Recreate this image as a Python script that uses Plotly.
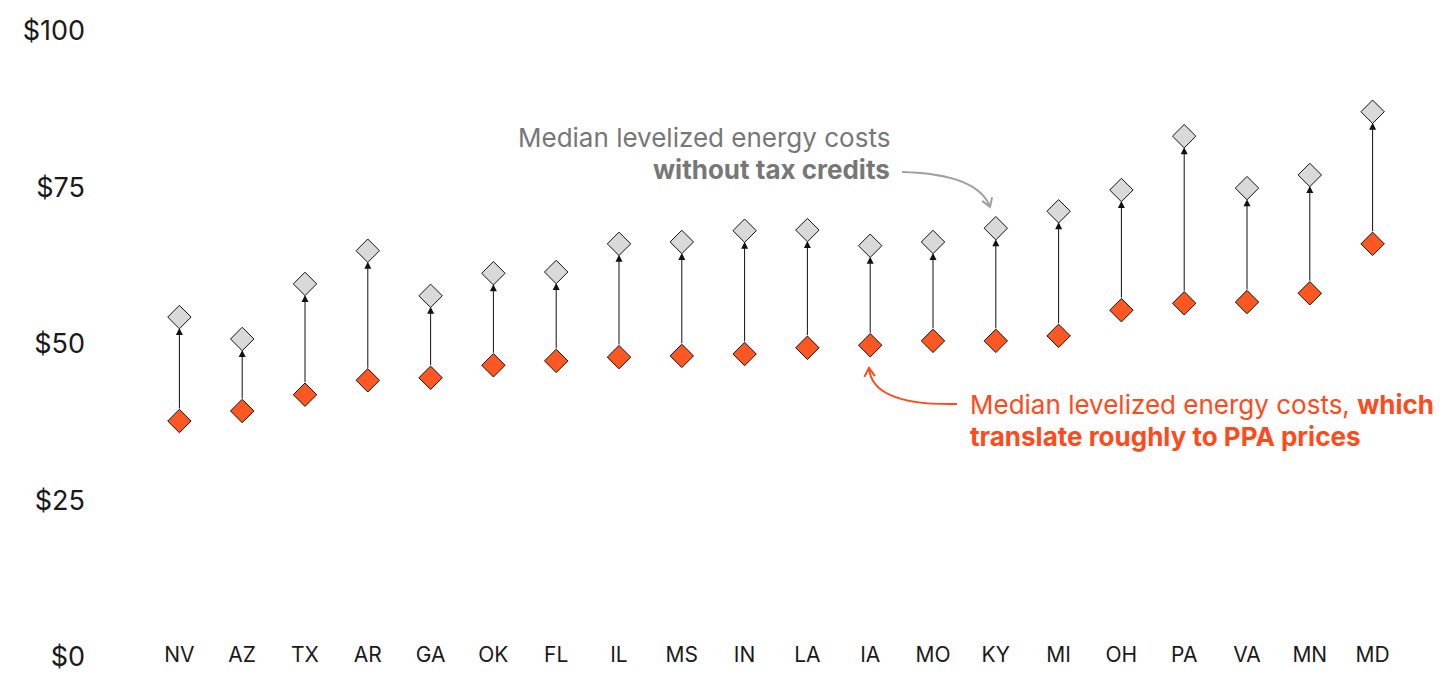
import math
import plotly.graph_objects as go

# Median levelized energy cost by state ($/MWh)
states = ["NV", "AZ", "TX", "AR", "GA", "OK", "FL", "IL", "MS", "IN",
          "LA", "IA", "MO", "KY", "MI", "OH", "PA", "VA", "MN", "MD"]
with_credits = [37.7, 39.3, 41.9, 44.2, 44.6, 46.6, 47.3, 47.9, 48.1, 48.4,
                49.4, 49.8, 50.5, 50.5, 51.3, 55.4, 56.5, 56.7, 58.1, 66.0]
without_credits = [54.3, 50.8, 59.6, 64.9, 57.7, 61.3, 61.5, 66.0, 66.3, 68.1,
                   68.2, 65.7, 66.3, 68.5, 71.2, 74.6, 83.2, 74.9, 77.0, 87.1]
y_ticks = [0, 25, 50, 75, 100]
y_tick_labels = ["$0", "$25", "$50", "$75", "$100"]

RED = "#FF5722"
RED_TEXT = "#FF4A1C"
GRAY_FILL = "#D9D9D9"
GRAY_TEXT = "#777777"
FONT = "Inter"

# page body has an 8px margin, so the plot is shifted up/left by 8
OFF = 8
W, H = 1456, 688
L, R, T, B = 148 - OFF, 52 + OFF, 31 - OFF, 31 + OFF
n = len(states)


# screen pixel -> data helpers, only used for the hand-drawn callouts
def px_x(px):
    return -0.5 + (px - OFF - L) / (W - L - R) * n


def px_y(py):
    return (H - B - (py - OFF)) / (H - T - B) * 100


def curved_arrow(p0, c, p1, head=10, spread=32):
    dx, dy = p1[0] - c[0], p1[1] - c[1]
    d = math.hypot(dx, dy)
    bx, by = -dx / d, -dy / d
    arms = []
    for s in (-1, 1):
        a = math.radians(spread * s)
        ex = bx * math.cos(a) - by * math.sin(a)
        ey = bx * math.sin(a) + by * math.cos(a)
        arms.append((p1[0] + head * ex, p1[1] + head * ey))
    f = lambda p: f"{px_x(p[0]):.4f},{px_y(p[1]):.4f}"
    return (f"M {f(p0)} Q {f(c)} {f(p1)} "
            f"M {f(arms[0])} L {f(p1)} L {f(arms[1])}")


fig = go.Figure()

fig.add_trace(go.Scatter(
    x=states, y=without_credits, mode="markers",
    marker=dict(symbol="diamond", size=18, color=GRAY_FILL,
                line=dict(color="#111111", width=1)),
    cliponaxis=False, hoverinfo="x+y",
))
fig.add_trace(go.Scatter(
    x=states, y=with_credits, mode="markers",
    marker=dict(symbol="diamond", size=18, color=RED,
                line=dict(color="#111111", width=1)),
    cliponaxis=False, hoverinfo="x+y",
))
# state labels sit on the $0 line
fig.add_trace(go.Scatter(
    x=states, y=[0] * n, mode="text", text=states,
    textposition="middle center",
    textfont=dict(family=FONT, size=21, color="#1A1A1A"),
    cliponaxis=False, hoverinfo="skip",
))

# connectors with arrowheads from "with" to "without"
for s, lo, hi in zip(states, with_credits, without_credits):
    fig.add_annotation(
        x=s, y=hi, ax=s, ay=lo, xref="x", yref="y", axref="x", ayref="y",
        showarrow=True, arrowhead=2, arrowsize=1.4, arrowwidth=1,
        arrowcolor="#111111", standoff=11, startstandoff=11, text="",
    )

# callout text, one annotation per line to control the line spacing
callouts = [
    (892, 137, "right", "Median levelized energy costs", GRAY_TEXT),
    (892, 169, "right", "<b>without tax credits</b>", GRAY_TEXT),
    (968, 404, "left", "Median levelized energy costs, <b>which</b>", RED_TEXT),
    (968, 436, "left", "<b>translate roughly to PPA prices</b>", RED_TEXT),
]
for cx, cy, anchor, txt, col in callouts:
    fig.add_annotation(
        x=px_x(cx), y=px_y(cy), xref="x", yref="y", text=txt,
        showarrow=False, xanchor=anchor, yanchor="middle",
        font=dict(family=FONT, size=26, color=col),
    )

fig.add_shape(type="path", xref="x", yref="y",
              path=curved_arrow((902, 172), (978, 174), (990, 207)),
              line=dict(color="#A0A0A0", width=2))
fig.add_shape(type="path", xref="x", yref="y",
              path=curved_arrow((957, 404), (872, 406), (869, 368)),
              line=dict(color=RED_TEXT, width=2))

fig.update_layout(
    width=W, height=H,
    margin=dict(l=L, r=R, t=T, b=B),
    plot_bgcolor="white", paper_bgcolor="white",
    showlegend=False,
    font=dict(family=FONT, color="#1A1A1A"),
)
fig.update_xaxes(range=[-0.5, n - 0.5], showticklabels=False,
                 showgrid=False, zeroline=False, showline=False,
                 automargin=False)
fig.update_yaxes(range=[0, 100], tickvals=y_ticks, ticktext=y_tick_labels,
                 tickfont=dict(family=FONT, size=27, color="#1A1A1A"),
                 ticklabelstandoff=62, automargin=False,
                 showgrid=False, zeroline=False, showline=False)

fig.write_html("out.html")
